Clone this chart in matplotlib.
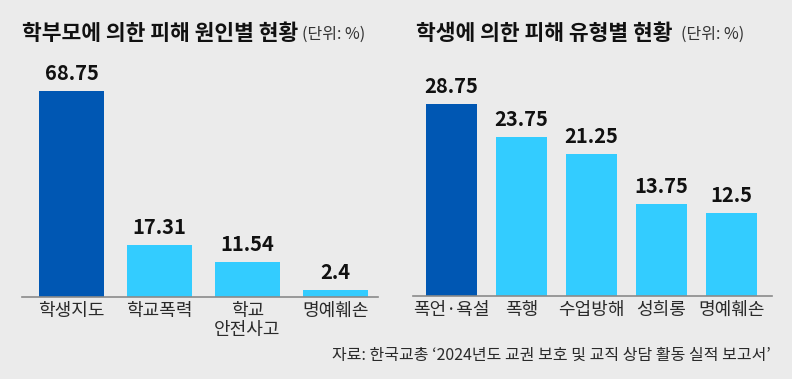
import numpy as np
import matplotlib
matplotlib.use("Agg")
import matplotlib.pyplot as plt

plt.rcParams['font.family'] = ['Noto Sans CJK KR', 'DejaVu Sans']

# 데이터
left_title = '학부모에 의한 피해 원인별 현황'
left_cats = ['학생지도', '학교폭력', '학교\n안전사고', '명예훼손']
left_vals = [68.75, 17.31, 11.54, 2.4]
left_labels = ['68.75', '17.31', '11.54', '2.4']

right_title = '학생에 의한 피해 유형별 현황'
right_cats = ['폭언·욕설', '폭행', '수업방해', '성희롱', '명예훼손']
right_vals = [28.75, 23.75, 21.25, 13.75, 12.5]
right_labels = ['28.75', '23.75', '21.25', '13.75', '12.5']

unit_text = '(단위: %)'
source_text = '자료: 한국교총 ‘2024년도 교권 보호 및 교직 상담 활동 실적 보고서’'

bg = '#ebebeb'
dark = '#0057b3'
light = '#33ccff'

W, H = 792, 379
fig = plt.figure(figsize=(W / 100, H / 100), dpi=100, facecolor=bg)


def px_axes(x0, x1, y_base, h):
    # 픽셀 좌표로 축 위치 지정
    return fig.add_axes([x0 / W, (H - y_base) / H, (x1 - x0) / W, h / H])


def draw(ax, cats, vals, labels, xlim, width, scale, h):
    x = np.arange(len(cats))
    colors = [dark] + [light] * (len(cats) - 1)
    ax.bar(x, vals, width=width, color=colors)
    ax.set_xlim(*xlim)
    ax.set_ylim(0, h / scale)
    ax.set_facecolor(bg)
    for s in ['top', 'left', 'right']:
        ax.spines[s].set_visible(False)
    ax.spines['bottom'].set_color('#8a8a8a')
    ax.spines['bottom'].set_linewidth(1.2)
    ax.set_yticks([])
    ax.set_xticks(x)
    ax.set_xticklabels(cats, fontsize=13, color='#2a2a2a', linespacing=1.1, va='top')
    ax.tick_params(axis='x', length=0, pad=3.5)
    for xi, v, lab in zip(x, vals, labels):
        ax.annotate(lab, (xi, v), xytext=(0, 5), textcoords='offset points',
                    ha='center', va='bottom', fontsize=14.5, fontweight='bold',
                    color='#111111')


hgt = 230
axl = px_axes(22, 378, 297, hgt)
draw(axl, left_cats, left_vals, left_labels, (-0.5625, 3.483), 0.74, 3.0, hgt)

axr = px_axes(413, 772, 296, hgt)
draw(axr, right_cats, right_vals, right_labels, (-0.55, 4.578), 0.73, 6.68, hgt)

# 제목
fig.text(22 / W, 1 - 34 / H, left_title, fontsize=15.5, fontweight='bold',
         color='#111111', ha='left', va='center')
fig.text(302 / W, 1 - 34 / H, unit_text, fontsize=11.5, color='#333333',
         ha='left', va='center')
fig.text(416 / W, 1 - 34 / H, right_title, fontsize=15.5, fontweight='bold',
         color='#111111', ha='left', va='center')
fig.text(681 / W, 1 - 34 / H, unit_text, fontsize=11.5, color='#333333',
         ha='left', va='center')

# 출처
fig.text(771 / W, 1 - 355 / H, source_text, fontsize=11.5, color='#2a2a2a',
         ha='right', va='center')

fig.savefig('out.png', dpi=100, facecolor=bg)
